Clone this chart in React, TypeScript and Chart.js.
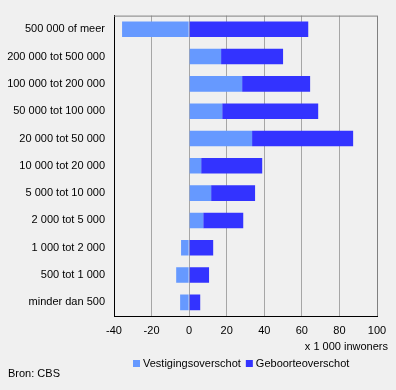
import React, { useEffect, useRef } from "react";
import { Chart, registerables } from "chart.js";

Chart.register(...registerables);

const categories = [
  "500 000 of meer",
  "200 000 tot 500 000",
  "100 000 tot 200 000",
  "50 000 tot 100 000",
  "20 000 tot 50 000",
  "10 000 tot 20 000",
  "5 000 tot 10 000",
  "2 000 tot 5 000",
  "1 000 tot 2 000",
  "500 tot 1 000",
  "minder dan 500",
];
const vestigingsoverschot = [-35.7, 17.0, 28.2, 17.6, 33.5, 6.4, 11.7, 7.5, -4.3, -6.9, -4.8];
const geboorteoverschot = [63.4, 33.0, 36.2, 51.1, 53.8, 32.5, 23.4, 21.3, 12.8, 10.6, 5.9];
const seriesNames = ["Vestigingsoverschot", "Geboorteoverschot"];
const seriesColors = ["#6699FF", "#3333FF"];
const xMin = -40;
const xMax = 100;
const xStep = 20;
const xTitle = "x 1 000 inwoners";
const source = "Bron: CBS";

const FONT = "Arial, 'Liberation Sans', sans-serif";

export default function App() {
  const ref = useRef<HTMLCanvasElement | null>(null);
  useEffect(() => {
    if (!ref.current) return;
    const deco = {
      id: "deco",
      beforeDraw(chart: any) {
        const ctx = chart.ctx;
        ctx.save();
        ctx.fillStyle = "#F0F0F0";
        ctx.fillRect(0, 0, chart.width, chart.height);
        ctx.restore();
      },
      afterDraw(chart: any) {
        const ctx = chart.ctx;
        const a = chart.chartArea;
        ctx.save();
        ctx.strokeStyle = "#808080";
        ctx.lineWidth = 1;
        ctx.beginPath();
        ctx.moveTo(a.left, a.top + 0.5);
        ctx.lineTo(Math.round(a.right) + 0.5, a.top + 0.5);
        ctx.lineTo(Math.round(a.right) + 0.5, a.bottom);
        ctx.stroke();
        ctx.font = "11px " + FONT;
        ctx.fillStyle = "#000";
        ctx.textBaseline = "middle";
        ctx.textAlign = "right";
        ctx.fillText(xTitle, 388, 347);
        ctx.textAlign = "left";
        ctx.fillText(source, 8, 374);
        // legend
        let x = 133;
        const y = 364;
        seriesNames.forEach((n, i) => {
          ctx.fillStyle = seriesColors[i];
          ctx.fillRect(x, y - 4, 7, 7);
          ctx.fillStyle = "#000";
          ctx.fillText(n, x + 10, y);
          x += 10 + ctx.measureText(n).width + 5;
        });
        ctx.restore();
      },
    };
    const chart = new Chart(ref.current, {
      type: "bar",
      data: {
        labels: categories,
        datasets: [
          {
            label: seriesNames[0],
            data: vestigingsoverschot,
            backgroundColor: seriesColors[0],
            borderWidth: 0,
            barPercentage: 0.57,
            categoryPercentage: 1,
          },
          {
            label: seriesNames[1],
            data: geboorteoverschot,
            backgroundColor: seriesColors[1],
            borderWidth: 0,
            barPercentage: 0.57,
            categoryPercentage: 1,
          },
        ],
      },
      options: {
        indexAxis: "y",
        animation: false,
        responsive: false,
        devicePixelRatio: 1,
        layout: { padding: { left: 0, right: 19, top: 13, bottom: 44 } },
        plugins: { legend: { display: false }, tooltip: { enabled: false } },
        scales: {
          x: {
            stacked: true,
            min: xMin,
            max: xMax,
            ticks: {
              stepSize: xStep,
              color: "#000",
              font: { family: FONT, size: 11 },
              padding: 8,
              maxRotation: 0,
            },
            grid: {
              color: "#A6A6A6",
              drawTicks: false,
            },
            border: { color: "#000", width: 1 },
            afterFit(scale: any) {
              scale.height = 30;
            },
          },
          y: {
            stacked: true,
            ticks: {
              color: "#000",
              font: { family: FONT, size: 11 },
              padding: 9,
              autoSkip: false,
            },
            grid: { display: false, drawTicks: false },
            border: { color: "#000", width: 1 },
            afterFit(scale: any) {
              scale.width = 114;
            },
          },
        },
      },
      plugins: [deco],
    } as any);
    return () => chart.destroy();
  }, []);
  return (
    <div style={{ position: "fixed", left: 0, top: 0, width: 396, height: 390, background: "#F0F0F0" }}>
      <canvas ref={ref} width={396} height={390} style={{ display: "block", width: 396, height: 390 }} />
    </div>
  );
}
